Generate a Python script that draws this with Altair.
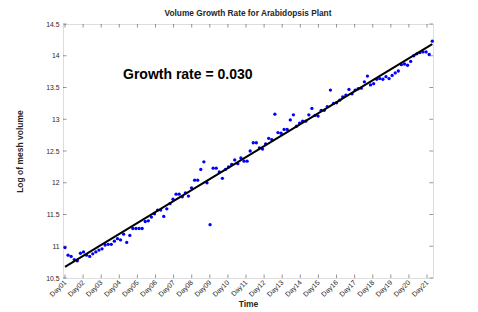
import altair as alt
import numpy as np
import pandas as pd

# log of mesh volume (one value per time step)
volumes = [
    10.98, 10.86, 10.84, 10.79, 10.77, 10.89, 10.91, 10.86, 10.84, 10.88,
    10.91, 10.94, 10.96, 11.02, 11.03, 11.03, 11.08, 11.12, 11.10, 11.19,
    11.06, 11.17, 11.28, 11.28, 11.28, 11.28,
    11.39, 11.40, 11.46, 11.51, 11.57, 11.57, 11.47, 11.59, 11.67, 11.74,
    11.82, 11.82, 11.78, 11.84, 11.79, 11.92, 12.04, 12.04, 12.21, 12.33,
    12.00, 11.34, 12.23, 12.23, 12.17, 12.07, 12.21, 12.25, 12.29, 12.36,
    12.30, 12.39, 12.34, 12.34, 12.50, 12.63, 12.63, 12.55,
    12.53, 12.61, 12.70, 12.68, 13.08, 12.79, 12.78, 12.84, 12.84, 12.99,
    13.07, 12.89, 12.94, 12.97, 12.97, 13.07, 13.17, 13.06, 13.05, 13.14,
    13.14, 13.20, 13.46, 13.25, 13.26, 13.30, 13.35, 13.38, 13.47, 13.40,
    13.46, 13.48, 13.49, 13.59, 13.68, 13.54, 13.56, 13.63, 13.64,
    13.63, 13.67, 13.64, 13.69, 13.73, 13.76, 13.86, 13.87, 13.85, 13.91,
    14.00, 14.03, 14.05, 14.06, 14.06, 14.02, 14.23,
]
# time in days (Day01 .. past Day21), evenly spaced samples
times = list(np.linspace(1.0, 21.29, len(volumes)))

day_ticks = list(range(1, 22))
y_ticks = [10.5, 11, 11.5, 12, 12.5, 13, 13.5, 14, 14.5]

annotation = ["Growth rate = 0.030"]

W, H = 370, 254
FONT = "Liberation Sans"
AX = "#4d4d4d"

df = pd.DataFrame({"t": times, "v": volumes})
xt = pd.DataFrame({"t": day_ticks})
yt = pd.DataFrame({"v": y_ticks})

xs = alt.Scale(domain=[0.89, 21.33], nice=False, zero=False)
ys = alt.Scale(domain=[10.5, 14.5], nice=False, zero=False)

x_axis = alt.Axis(
    values=day_ticks, ticks=False, grid=False, domain=False,
    labelOverlap=False, labelFlush=False, labelBound=False,
    labelExpr="'Day' + (datum.value < 10 ? '0' + datum.value : datum.value)",
    labelAngle=315, labelAlign="right", labelBaseline="middle",
    labelFont=FONT, labelFontSize=7, labelColor="#262626", labelPadding=3,
    title="Time", titleFont=FONT, titleFontSize=8.5, titleFontWeight="bold",
    titleColor="#262626", titlePadding=2,
)
y_axis = alt.Axis(
    values=y_ticks, ticks=False, grid=False, domain=False, format="~g",
    labelOverlap=False, labelFlush=False, labelBound=False,
    labelFont=FONT, labelFontSize=6.8, labelColor="#262626", labelPadding=4,
    title="Log of mesh volume", titleFont=FONT, titleFontSize=8.5,
    titleFontWeight="bold", titleColor="#262626", titlePadding=21,
)

X = alt.X("t:Q", scale=xs, axis=x_axis)
Y = alt.Y("v:Q", scale=ys, axis=y_axis)

points = alt.Chart(df).mark_circle(size=11, color="#0000ff", opacity=1).encode(
    x=X, y=Y)

fit = alt.Chart(df).transform_regression("t", "v").mark_line(
    color="black", strokeWidth=2
).encode(x=X, y=Y)

tick_b = alt.Chart(xt).mark_rule(color=AX, strokeWidth=0.6).encode(
    x=X, y=alt.value(H), y2=alt.value(H - 3.5))
tick_t = alt.Chart(xt).mark_rule(color=AX, strokeWidth=0.6).encode(
    x=X, y=alt.value(0), y2=alt.value(3.5))
tick_l = alt.Chart(yt).mark_rule(color=AX, strokeWidth=0.6).encode(
    y=Y, x=alt.value(0), x2=alt.value(3.5))
tick_r = alt.Chart(yt).mark_rule(color=AX, strokeWidth=0.6).encode(
    y=Y, x=alt.value(W), x2=alt.value(W - 3.5))

label = alt.Chart(pd.DataFrame({"txt": annotation})).mark_text(
    align="left", baseline="middle", font=FONT, fontSize=14,
    fontWeight="bold", color="black",
).encode(text="txt:N", x=alt.value(60), y=alt.value(51))

chart = alt.layer(
    points, fit, tick_b, tick_t, tick_l, tick_r, label
).properties(
    width=W, height=H,
    title=alt.TitleParams(
        "Volume Growth Rate for Arabidopsis Plant", font=FONT, fontSize=8.3,
        fontWeight="bold", color="#262626", offset=4, anchor="middle",
    ),
    autosize=alt.AutoSizeParams(type="none"),
    padding={"left": 55, "top": 16, "right": 30, "bottom": 30},
).configure_view(stroke=AX, strokeWidth=1).configure(background="white")

chart.save("out.html", embed_options={"renderer": "svg", "actions": False})
